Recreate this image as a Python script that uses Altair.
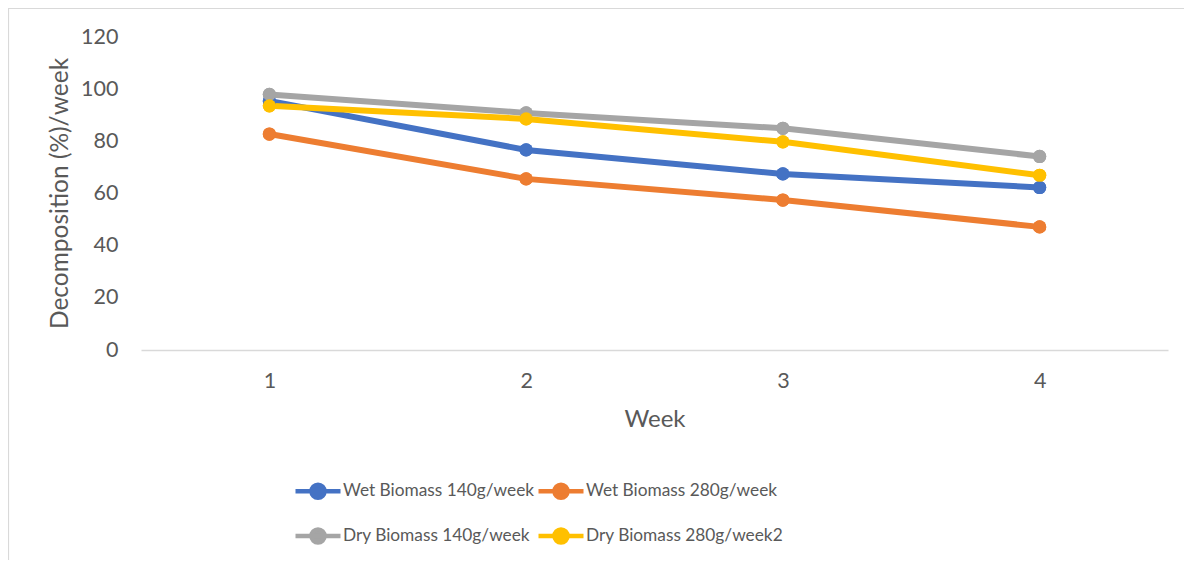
import altair as alt
import pandas as pd

weeks = [1, 2, 3, 4]
series_names = ["Wet Biomass 140g/week", "Wet Biomass 280g/week",
                "Dry Biomass 140g/week", "Dry Biomass 280g/week2"]
wet_140 = [95.5, 76.7, 67.5, 62.3]
wet_280 = [82.8, 65.6, 57.5, 47.2]
dry_140 = [98.0, 90.9, 85.0, 74.2]
dry_280 = [93.6, 88.6, 79.8, 67.0]
colors = ["#4472C4", "#ED7D31", "#A5A5A5", "#FFC000"]
y_ticks = [0, 20, 40, 60, 80, 100, 120]

rows = []
for name, vals in zip(series_names, [wet_140, wet_280, dry_140, dry_280]):
    for w, v in zip(weeks, vals):
        rows.append({"Week": w, "Series": name, "Value": v})
df = pd.DataFrame(rows)

FONT = "Lato"
TXT = "#595959"

sym_path = "M-1,0H1M-0.29,0A0.29,0.29,0,1,1,0.29,0A0.29,0.29,0,1,1,-0.29,0Z"

color = alt.Color(
    "Series:N",
    scale=alt.Scale(domain=series_names, range=colors),
    legend=alt.Legend(
        title=None, orient="none", legendX=152, legendY=429, columns=2,
        direction="horizontal",
        symbolType=sym_path, symbolSize=2025, symbolStrokeWidth=4.5,
        labelFont=FONT, labelFontSize=17.3, labelColor=TXT, labelOffset=0,
        rowPadding=4, columnPadding=-6, labelLimit=400,
    ),
)

x = alt.X("Week:Q", scale=alt.Scale(domain=[0.5, 4.5], nice=False, zero=False),
          axis=alt.Axis(values=weeks, format="d", title="Week", grid=False, ticks=False,
                        domainColor="#D9D9D9", domainWidth=1.3,
                        labelFont=FONT, labelFontSize=21.5, labelColor=TXT, labelPadding=20,
                        titleFont=FONT, titleFontSize=24, titleColor=TXT, titleFontWeight="normal",
                        titleY=69, titleBaseline="middle"))
y = alt.Y("Value:Q", scale=alt.Scale(domain=[0, 120], nice=False),
          axis=alt.Axis(values=y_ticks, title="Decomposition (%)/week", grid=False, ticks=False,
                        domain=False,
                        labelFont=FONT, labelFontSize=21.5, labelColor=TXT, labelPadding=23,
                        titleFont=FONT, titleFontSize=24.5, titleColor=TXT, titleFontWeight="normal",
                        titleX=-81, titleY=156, titleBaseline="middle", titleAngle=270))

base = alt.Chart(df).encode(x=x, y=y, color=color)
lines = base.mark_line(strokeWidth=6)
points = base.mark_point(filled=True, size=175, opacity=1)

frame = alt.Chart(alt.Data(values=[{}])).mark_rect(
    filled=False, stroke="#D9D9D9", strokeWidth=1.2
).encode(x=alt.value(-132.5), y=alt.value(-28.5), x2=alt.value(1100), y2=alt.value(600))

chart = alt.layer(frame, points, lines, points).properties(
    width=1027, height=313,
    autosize=alt.AutoSizeParams(type="none"),
    padding={"left": 133, "top": 29, "right": 16, "bottom": 210},
    background="white",
).configure_view(stroke=None, strokeWidth=0)

chart.save("out.html", embed_options={"renderer": "svg", "actions": False})
